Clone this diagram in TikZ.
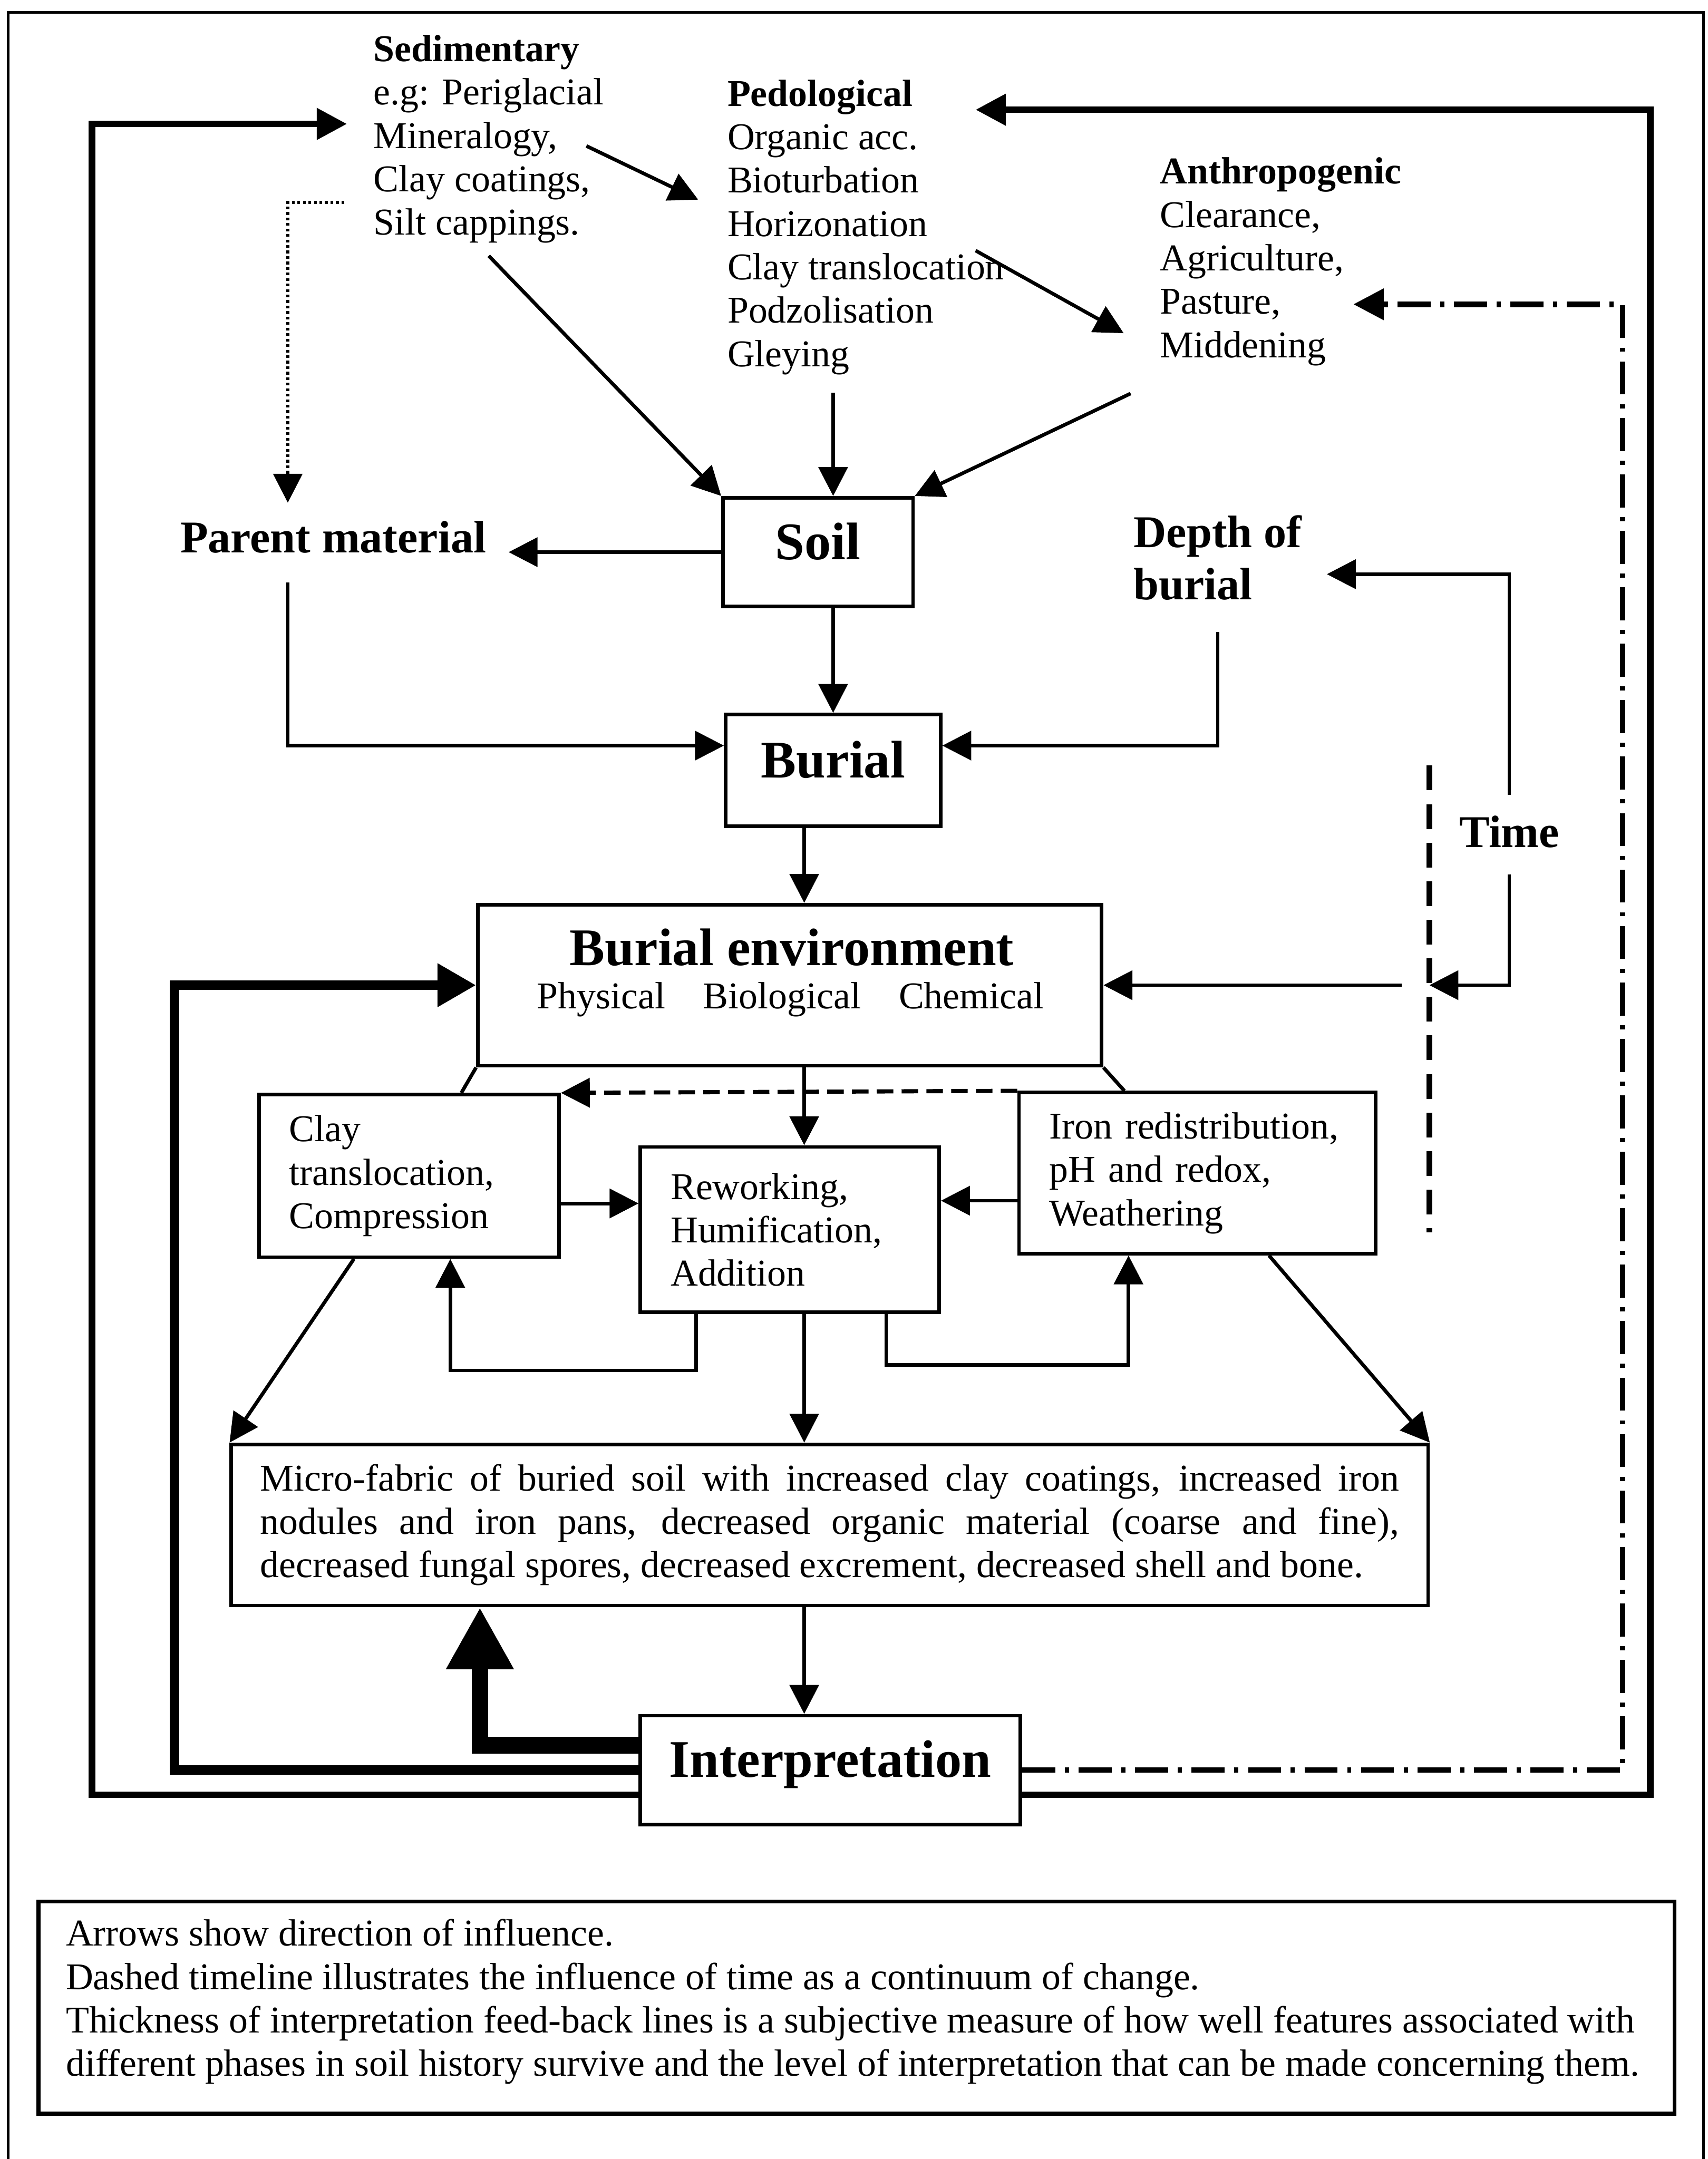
\documentclass[tikz,border=0pt]{standalone}
\usepackage{fontspec}
\setmainfont{Liberation Serif}
\usetikzlibrary{positioning,arrows.meta}

\newcommand\txtsize{\fontsize{13.75pt}{15.75pt}\selectfont}
\newcommand\headsize{\fontsize{16.5pt}{19pt}\selectfont}
\newcommand\bigsize{\fontsize{19.2pt}{22pt}\selectfont}

\begin{document}
\begin{tikzpicture}[
  x=0.5pt, y=-0.5pt,
  >={Triangle[length=10.5pt,width=10.5pt]},
  line width=1.3pt,
  box/.style={draw, line width=1.3pt, inner sep=0pt},
  factor/.style={align=left, font=\txtsize, inner sep=0pt, anchor=west},
  proc/.style={box, align=left, font=\txtsize, inner xsep=11pt},
  stage/.style={box, font=\bigsize\bfseries, text depth=8pt},
  outer/.style={line width=2.4pt, -{Triangle[length=11pt,width=11pt]}},
  feed/.style={line width=3.3pt, -{Triangle[length=14pt,width=15pt]}},
  heavy/.style={line width=6pt, -{Triangle[length=22.5pt,width=23pt]}},
  timeline/.style={line width=2pt, dash pattern=on 9pt off 5pt},
  dashdot/.style={line width=2pt, dash pattern=on 12pt off 3.5pt on 1.5pt off 3.5pt},
  dashedarrow/.style={line width=1.5pt, dash pattern=on 6pt off 3pt},
  dotline/.style={line width=1pt, dash pattern=on 1pt off 1pt}
]
\useasboundingbox (0,0) rectangle (1240,1568);
\draw[line width=0.9pt] (6,1570) |- (1237,9) -- (1237,1570);

% source factors
\node[factor] (sed)    at (270,101) {\textbf{Sedimentary}\\e.g: Periglacial\\Mineralogy,\\Clay coatings,\\Silt cappings.};
\node[factor] (ped)    at (527,165) {\textbf{Pedological}\\Organic acc.\\Bioturbation\\Horizonation\\Clay translocation\\Podzolisation\\Gleying};
\node[factor] (anthro) at (841,190) {\textbf{Anthropogenic}\\Clearance,\\Agriculture,\\Pasture,\\Middening};
\node[font=\headsize\bfseries, inner sep=0pt] (parent) at (242,390) {Parent material};
\node[factor, font=\headsize\bfseries] (depth) at (822,405) {Depth of\\burial};
\node[font=\headsize\bfseries, inner sep=0pt] (time) at (1096,604) {Time};

% main chain
\node[stage, minimum width=69pt, minimum height=39.5pt] (soil)   at (594,401)   {Soil};
\node[stage, minimum width=78pt, minimum height=40.5pt] (burial) at (605,559.5) {Burial};
\node[box, minimum width=226.5pt, minimum height=58.5pt] (env) at (573.5,715.5) {};
\node[font=\bigsize\bfseries, inner sep=0pt] (envhead) at (575,688) {Burial environment};
\node[font=\txtsize, inner sep=0pt] (envsub) at (574,726) {Physical\quad Biological\quad Chemical};

% processes after burial
\node[proc, text width=87pt, minimum height=59pt]      (clay)   at (297,854)   {Clay\\translocation,\\Compression};
\node[proc, text width=86.5pt, minimum height=60pt]    (rework) at (573.5,893) {Reworking,\\Humification,\\Addition};
\node[proc, text width=107.5pt, minimum height=58.5pt] (iron)   at (869.5,852) {Iron redistribution,\\pH and redox,\\Weathering};
\node[proc, align=justify, text width=413.5pt, inner xsep=10.5pt, minimum height=58.5pt] (fabric) at (602.5,1107.5)
  {\tolerance=9999 Micro-fabric of buried soil with increased clay coatings, increased iron\linebreak
   nodules and iron pans, decreased organic material (coarse and fine),\linebreak
   decreased fungal spores, decreased excrement, decreased shell and bone.};
\node[stage, minimum width=138pt, minimum height=39.5pt] (interp) at (603,1285.5) {Interpretation};

% key
\node[box, line width=1.4pt, minimum width=594pt, minimum height=77pt] (note) at (622,1458) {};
\node[factor, anchor=north west] (notetext) at ([xshift=10pt,yshift=-6.5pt]note.north west)
  {Arrows show direction of influence.\\
   Dashed timeline illustrates the influence of time as a continuum of change.\\
   Thickness of interpretation feed-back lines is a subjective measure of how well features associated with\\
   different phases in soil history survive and the level of interpretation that can be made concerning them.};

\coordinate (spine) at (584,0);
\coordinate (tltop) at (1038,556);
\coordinate (tlbot) at (1038,895);

% upper part
\draw[->] ([xshift=-7pt,yshift=-2.5pt]sed.east) -- ([xshift=-10pt,yshift=10pt]ped.west);
\draw[->] ([xshift=-11pt,yshift=-8.5pt]ped.east) -- ([xshift=-12.5pt,yshift=-26pt]anthro.west);
\draw[->] ([yshift=-4pt]sed.south) -- (soil.north west);
\draw[->] ([yshift=-6pt]ped.south -| burial.north) -- (soil.north -| burial.north);
\draw[->] ([xshift=-10pt,yshift=-9.5pt]anthro.south west) -- (soil.north east);
\draw[dotline, ->] ([xshift=-10pt,yshift=-23pt]sed.west) -| ([xshift=-16.5pt,yshift=6pt]parent.north);
\draw[->] (soil.west) -- ([xshift=7.5pt]parent.east |- soil.west);
\draw[->] (soil.south -| burial.north) -- (burial.north);
\draw[->] ([xshift=-16.5pt,yshift=-10pt]parent.south) |- ([yshift=9pt]burial.west);
\draw[->] ([yshift=-11pt]depth.south) |- ([yshift=9pt]burial.east);
\draw[->] (burial.south -| spine) -- (env.north -| spine);

% time
\draw[->] ([yshift=7pt]time.north) |- ([xshift=8.5pt,yshift=-6pt]depth.east);
\draw[->] ([yshift=-9pt]time.south) |- (tltop |- env.east);
\draw[->] ([xshift=-10pt]tltop |- env.east) -- (env.east);
\draw[timeline] (tltop) -- (tlbot);

% burial environment
\draw (env.south west) -- ([xshift=19pt]clay.north);
\draw (env.south east) -- ([xshift=-26.5pt]iron.north);
\draw[->] (env.south -| spine) -- (rework.north -| spine);
\draw[dashedarrow, ->] (iron.north west) -- (clay.north east);
\draw[->] ([yshift=-10pt]clay.east) -- ([yshift=-10pt]clay.east -| rework.west);
\draw[->] ([yshift=-10pt]iron.west) -- ([yshift=-10pt]iron.west -| rework.east);
\draw[->] ([xshift=-34pt]rework.south) -- ++(0,41) -| ([xshift=15pt]clay.south);
\draw[->] ([xshift=35pt]rework.south) -- ++(0,37) -| ([xshift=-25pt]iron.south);
\draw[->] (rework.south -| spine) -- (fabric.north -| spine);
\draw[->] ([xshift=-20pt]clay.south) -- (fabric.north west);
\draw[->] ([xshift=26pt]iron.south) -- (fabric.north east);
\draw[->] (fabric.south -| spine) -- (interp.north -| spine);

% feed-back from interpretation
\draw[heavy] ([yshift=9pt]interp.west) -| ([xshift=-127pt]fabric.south);
\draw[feed] (interp.west) -- ++(-337,0) |- (env.west);
\draw[outer] ([yshift=-9pt]interp.west) -- ++(-397,0) |- ([xshift=-9pt,yshift=5.5pt]sed.west);
\draw[outer] ([yshift=-9pt]interp.east) -- ++(456,0) |- ([xshift=-11pt,yshift=-11.5pt]ped.north east);
\draw[dashdot, -{Triangle[length=11pt,width=11pt]}] (interp.east) -- ++(436,0) |- ([xshift=-18pt,yshift=-15.5pt]anthro.east);
\end{tikzpicture}
\end{document}
